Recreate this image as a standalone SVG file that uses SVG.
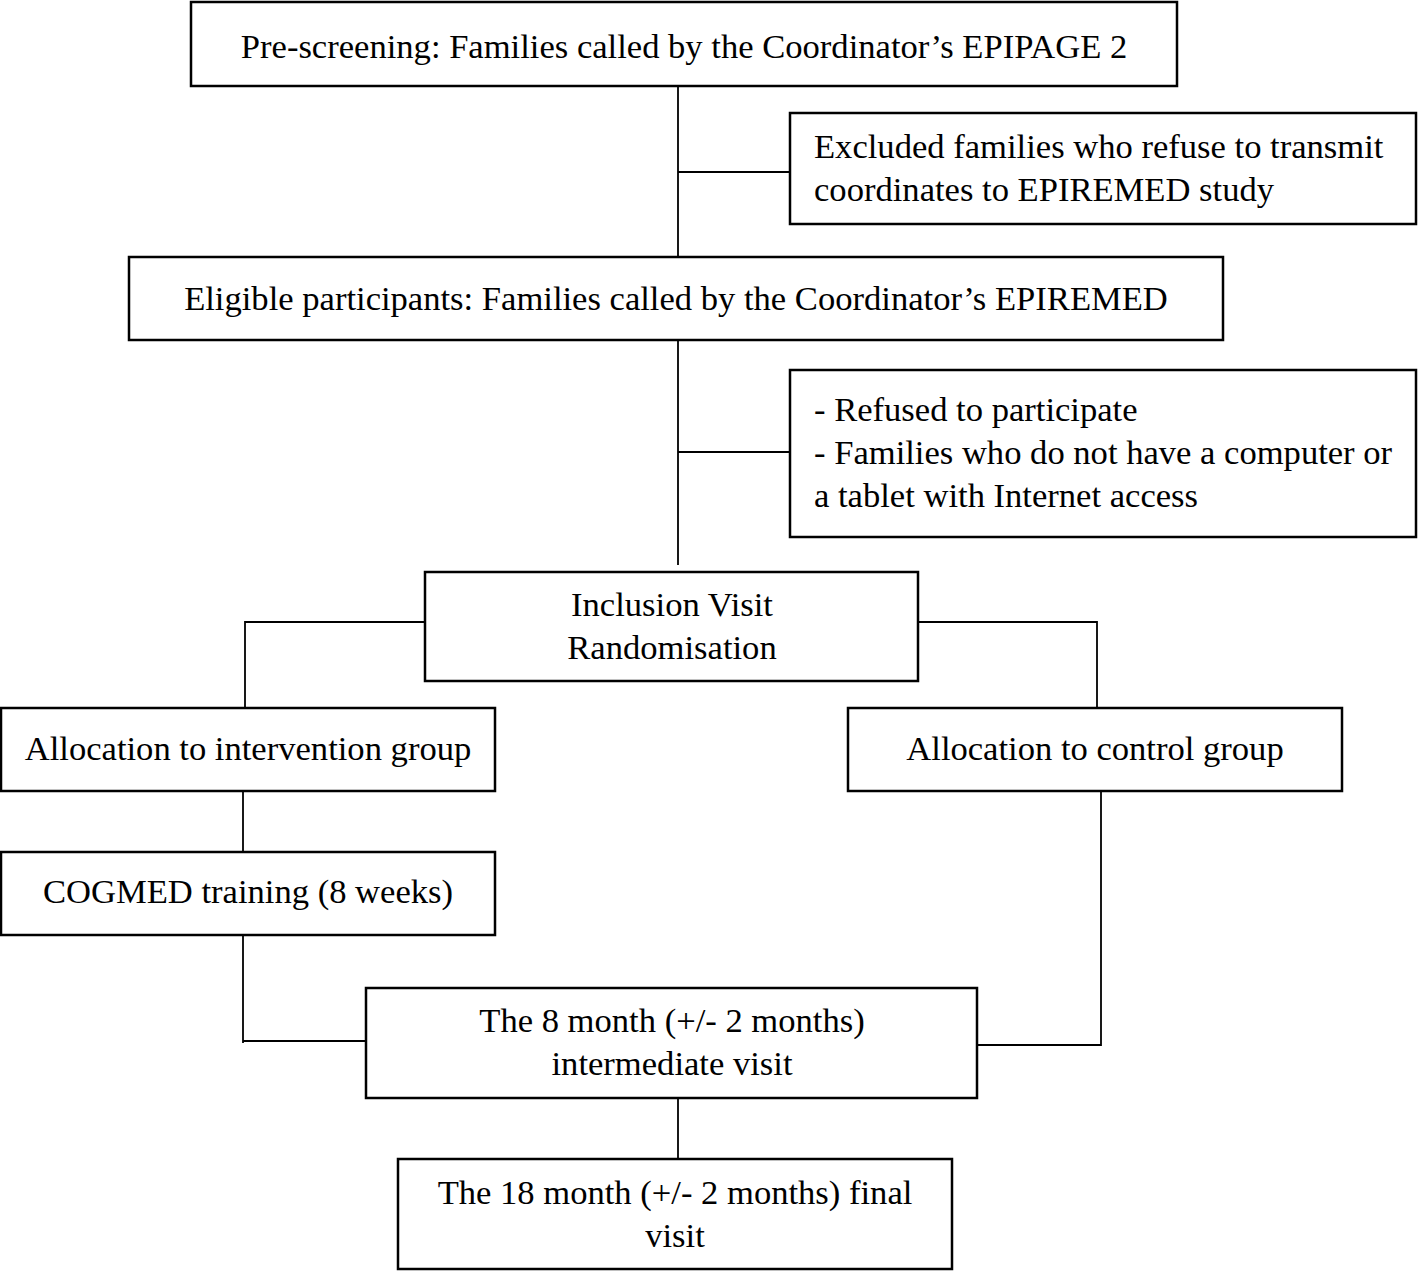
<svg xmlns="http://www.w3.org/2000/svg" width="1418" height="1271" viewBox="0 0 1418 1271">
<style>
.box{fill:#fff;stroke:#000;stroke-width:2.5}
.t{font-family:"Liberation Serif","Times New Roman",serif;font-size:34.6px;fill:#000}
.c{text-anchor:middle}
.ln{stroke:#000;stroke-width:1.8;fill:none}
</style>
<rect width="1418" height="1271" fill="#fff"/>
<g id="connectors">
<path class="ln" d="M678 86V257M678 172H790"/>
<path class="ln" d="M678 340V565M678 452H790"/>
<path class="ln" d="M425 622H245V708"/>
<path class="ln" d="M918 622H1097V708"/>
<path class="ln" d="M243 791V852"/>
<path class="ln" d="M243 935V1043M243 1041H366"/>
<path class="ln" d="M1101 791V1045H977"/>
<path class="ln" d="M678 1098V1159"/>
</g>
<g id="n1"><rect class="box" x="191" y="2" width="986" height="84"/><text class="t c" x="684" y="58">Pre-screening: Families called by the Coordinator’s EPIPAGE 2</text></g>
<g id="n2"><rect class="box" x="790" y="113" width="626" height="111"/><text class="t" x="814" y="158">Excluded families who refuse to transmit</text><text class="t" x="814" y="201">coordinates to EPIREMED study</text></g>
<g id="n3"><rect class="box" x="129" y="257" width="1094" height="83"/><text class="t c" x="676" y="310">Eligible participants: Families called by the Coordinator’s EPIREMED</text></g>
<g id="n4"><rect class="box" x="790" y="370" width="626" height="167"/><text class="t" x="814" y="421">- Refused to participate</text><text class="t" x="814" y="464">- Families who do not have a computer or</text><text class="t" x="814" y="507">a tablet with Internet access</text></g>
<g id="n5"><rect class="box" x="425" y="572" width="493" height="109"/><text class="t c" x="672" y="616">Inclusion Visit</text><text class="t c" x="672" y="659">Randomisation</text></g>
<g id="n6"><rect class="box" x="1" y="708" width="494" height="83"/><text class="t c" x="248" y="760">Allocation to intervention group</text></g>
<g id="n7"><rect class="box" x="848" y="708" width="494" height="83"/><text class="t c" x="1095" y="760">Allocation to control group</text></g>
<g id="n8"><rect class="box" x="1" y="852" width="494" height="83"/><text class="t c" x="248" y="903">COGMED training (8 weeks)</text></g>
<g id="n9"><rect class="box" x="366" y="988" width="611" height="110"/><text class="t c" x="672" y="1032">The 8 month (+/- 2 months)</text><text class="t c" x="672" y="1075">intermediate visit</text></g>
<g id="n10"><rect class="box" x="398" y="1159" width="554" height="110"/><text class="t c" x="675" y="1204">The 18 month (+/- 2 months) final</text><text class="t c" x="675" y="1247">visit</text></g>
</svg>
